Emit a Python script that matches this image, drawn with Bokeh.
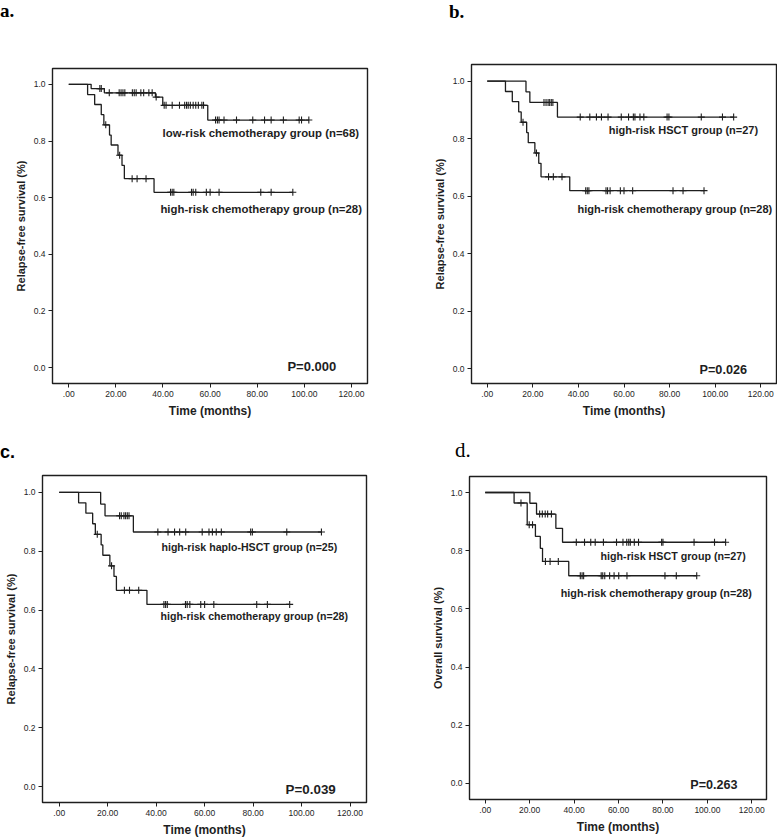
from bokeh.plotting import figure
from bokeh.models import Range1d, FixedTicker, Label, Div
from bokeh.layouts import column, row
from bokeh.embed import file_html
from bokeh.resources import INLINE

# ---------------- data ----------------
x_ticks = [0, 20, 40, 60, 80, 100, 120]
x_tick_labels = [".00", "20.00", "40.00", "60.00", "80.00", "100.00", "120.00"]
y_ticks = [0.0, 0.2, 0.4, 0.6, 0.8, 1.0]
y_tick_labels = ["0.0", "0.2", "0.4", "0.6", "0.8", "1.0"]

# low-risk chemotherapy group (n=68), relapse-free survival
lr_times = [0, 9.5, 15.1, 36.8, 39.9, 59.0]
lr_surv = [1.0, 0.985, 0.970, 0.955, 0.926, 0.874]
lr_censor = [13.2, 13.8, 17.2, 21.4, 22.2, 23.0, 23.8, 27.0, 27.8, 28.6, 30.6, 31.8, 34.0, 35.4,
             37.1, 40.5, 41.3, 43.9, 47.0, 49.2, 50.0, 50.7, 51.6, 52.8, 53.9, 55.0, 56.5, 57.2,
             62.3, 63.1, 63.8, 65.9, 71.2, 78.1, 83.1, 85.9, 91.1, 97.8, 98.8, 101.9]

# high-risk chemotherapy group (n=28), relapse-free survival
hc_times = [0, 8.0, 11.0, 13.8, 14.9, 17.3, 18.0, 20.9, 22.6, 23.6, 36.2]
hc_surv = [1.0, 0.964, 0.929, 0.893, 0.857, 0.821, 0.786, 0.750, 0.714, 0.667, 0.619]
hc_censor = [15.7, 21.6, 26.9, 29.0, 32.8, 43.2, 43.9, 44.6, 52.1, 52.8, 53.9, 58.4, 60.0,
             63.8, 81.5, 85.9, 95.1]

# high-risk HSCT group (n=27), relapse-free survival
hs_times = [0, 17.0, 18.7, 30.8]
hs_surv = [1.0, 0.963, 0.926, 0.875]
hs_censor = [24.9, 25.8, 26.7, 27.4, 28.1, 28.8, 40.8, 45.0, 47.9, 50.1, 53.0, 58.8, 62.0,
             64.1, 64.8, 67.0, 68.7, 78.9, 79.7, 93.9, 103.2, 108.1]

# high-risk haplo-HSCT group (n=25), relapse-free survival
hp_times = [0, 17.1, 18.9, 30.6]
hp_surv = [1.0, 0.960, 0.920, 0.865]
hp_censor = [24.9, 25.6, 26.7, 27.4, 28.1, 28.8, 40.7, 44.9, 47.6, 49.7, 52.2, 59.0, 61.8,
             63.2, 64.8, 66.9, 79.0, 79.7, 93.9, 108.2]

# high-risk HSCT group (n=27), overall survival
ho_times = [0, 20.1, 23.1, 31.8, 34.8]
ho_surv = [1.0, 0.963, 0.926, 0.877, 0.829]
ho_censor = [24.5, 25.7, 27.0, 28.1, 29.8, 41.0, 44.7, 47.5, 49.5, 53.2, 59.1, 62.0, 63.7,
             64.6, 65.3, 67.1, 69.0, 79.4, 80.0, 94.0, 103.2, 108.2]

# high-risk chemotherapy group (n=28), overall survival
co_times = [0, 13.0, 18.9, 22.6, 24.8, 25.8, 37.6]
co_surv = [1.0, 0.964, 0.889, 0.849, 0.808, 0.763, 0.714]
co_censor = [16.1, 19.8, 21.3, 27.1, 29.2, 32.9, 42.8, 43.6, 44.3, 52.2, 52.9, 53.8, 56.0,
             58.0, 60.1, 63.8, 80.9, 86.0, 95.2]

p_values = ["P=0.000", "P=0.026", "P=0.039", "P=0.263"]
panel_names = ["a.", "b.", "c.", "d."]

# ---------------- styling ----------------
INK = "#1e1e1e"
SANS = "Liberation Sans"


def level_at(times, surv, t):
    lvl = surv[0]
    for ti, si in zip(times, surv):
        if ti <= t:
            lvl = si
    return lvl


def add_curve(p, times, surv, censor):
    end = max(max(censor), times[-1])
    xs = list(times) + [end]
    ys = list(surv) + [surv[-1]]
    p.step(xs, ys, mode="after", line_color=INK, line_width=1.3)
    cy = [level_at(times, surv, c) for c in censor]
    p.scatter(censor, cy, marker="cross", size=7, line_color=INK, line_width=1.1)


def make_panel(w, h, ml, mr, mt, mb, xr, yr, ylabel):
    p = figure(width=w, height=h, x_range=Range1d(*xr), y_range=Range1d(*yr),
               output_backend="svg", toolbar_location=None, margin=0,
               min_border_left=ml, min_border_right=mr, min_border_top=mt, min_border_bottom=mb,
               background_fill_color="white", border_fill_color="white")
    p.grid.visible = False
    p.outline_line_color = INK
    p.outline_line_width = 1.4
    for ax in (p.xaxis[0], p.yaxis[0]):
        ax.axis_line_color = None
        ax.major_tick_out = 4
        ax.major_tick_in = 0
        ax.major_tick_line_color = INK
        ax.minor_tick_line_color = None
        ax.major_label_text_font = SANS
        ax.major_label_text_font_size = "8.5px"
        ax.major_label_text_color = INK
        ax.major_label_standoff = 3
        ax.axis_label_text_font = SANS
        ax.axis_label_text_font_style = "bold"
        ax.axis_label_text_color = INK
        ax.axis_label_standoff = 4
    p.xaxis.ticker = FixedTicker(ticks=x_ticks)
    p.xaxis.major_label_overrides = dict(zip(x_ticks, x_tick_labels))
    p.yaxis.ticker = FixedTicker(ticks=y_ticks)
    p.yaxis.major_label_overrides = dict(zip(y_ticks, y_tick_labels))
    p.xaxis.axis_label = "Time (months)"
    p.xaxis.axis_label_text_font_size = "12px"
    p.yaxis.axis_label = ylabel
    p.yaxis.axis_label_text_font_size = "11px"
    return p


def add_text(p, x, y, text, size):
    p.add_layout(Label(x=x, y=y, text=text, text_font=SANS, text_font_style="bold",
                       text_font_size=size, text_color=INK, text_baseline="middle"))


def label_div(text, w, h, left, top, font, weight, size):
    html = ('<div style="position:relative; left:%dpx; top:%dpx; font-family:\'%s\'; '
            'font-weight:%s; font-size:%s; line-height:22px; color:black;">%s</div>'
            % (left, top, font, weight, size, text))
    return Div(text=html, width=w, height=h, margin=0)


# ---------------- panel a ----------------
pa = make_panel(389, 390, 52, 22, 38, 34, (-6.9, 126.8), (-0.056, 1.056),
                "Relapse-free survival (%)")
add_curve(pa, lr_times, lr_surv, lr_censor)
add_curve(pa, hc_times, hc_surv, hc_censor)
add_text(pa, 39.8, 0.83, "low-risk chemotherapy group (n=68)", "11.4px")
add_text(pa, 38.9, 0.559, "high-risk chemotherapy group (n=28)", "11.4px")
add_text(pa, 92.8, 0.004, p_values[0], "13px")
da = label_div(panel_names[0], 389, 30, 0, 0, "Liberation Serif", "bold", "19px")

# ---------------- panel b ----------------
pb = make_panel(388, 390, 82, 1, 34, 33, (-6.9, 126.9), (-0.052, 1.058),
                "Relapse-free survival (%)")
add_curve(pb, hs_times, hs_surv, hs_censor)
add_curve(pb, hc_times, hc_surv, hc_censor)
add_text(pb, 53.3, 0.829, "high-risk HSCT group (n=27)", "11px")
add_text(pb, 39.6, 0.554, "high-risk chemotherapy group (n=28)", "11px")
add_text(pb, 93.1, -0.005, p_values[1], "12.7px")
db = label_div(panel_names[1], 388, 30, 60, 1, "Liberation Serif", "bold", "19px")

# ---------------- panel c ----------------
pc = make_panel(389, 377, 42, 23, 13, 35, (-6.9, 126.8), (-0.054, 1.057),
                "Relapse-free survival (%)")
add_curve(pc, hp_times, hp_surv, hp_censor)
add_curve(pc, hc_times, hc_surv, hc_censor)
add_text(pc, 42.2, 0.815, "high-risk haplo-HSCT group (n=25)", "10.6px")
add_text(pc, 41.8, 0.579, "high-risk chemotherapy group (n=28)", "10.6px")
add_text(pc, 93.4, -0.01, p_values[2], "13.4px")
dc = label_div(panel_names[2], 389, 42, 0, 21, "Liberation Sans", "bold", "18px")

# ---------------- panel d ----------------
pd_ = make_panel(388, 377, 80, 11, 14, 40, (-7.07, 126.6), (-0.055, 1.055),
                 "Overall survival (%)")
add_curve(pd_, ho_times, ho_surv, ho_censor)
add_curve(pd_, co_times, co_surv, co_censor)
add_text(pd_, 51.9, 0.782, "high-risk HSCT group (n=27)", "10.7px")
add_text(pd_, 34.0, 0.653, "high-risk chemotherapy group (n=28)", "10.8px")
add_text(pd_, 92.3, -0.004, p_values[3], "12.6px")
dd = label_div(panel_names[3], 388, 42, 66, 19, "Liberation Serif", "normal", "21px")

layout = column(row(column(da, pa), column(db, pb)),
                row(column(dc, pc), column(dd, pd_)))
open("out.html", "w").write(file_html(layout, INLINE))
